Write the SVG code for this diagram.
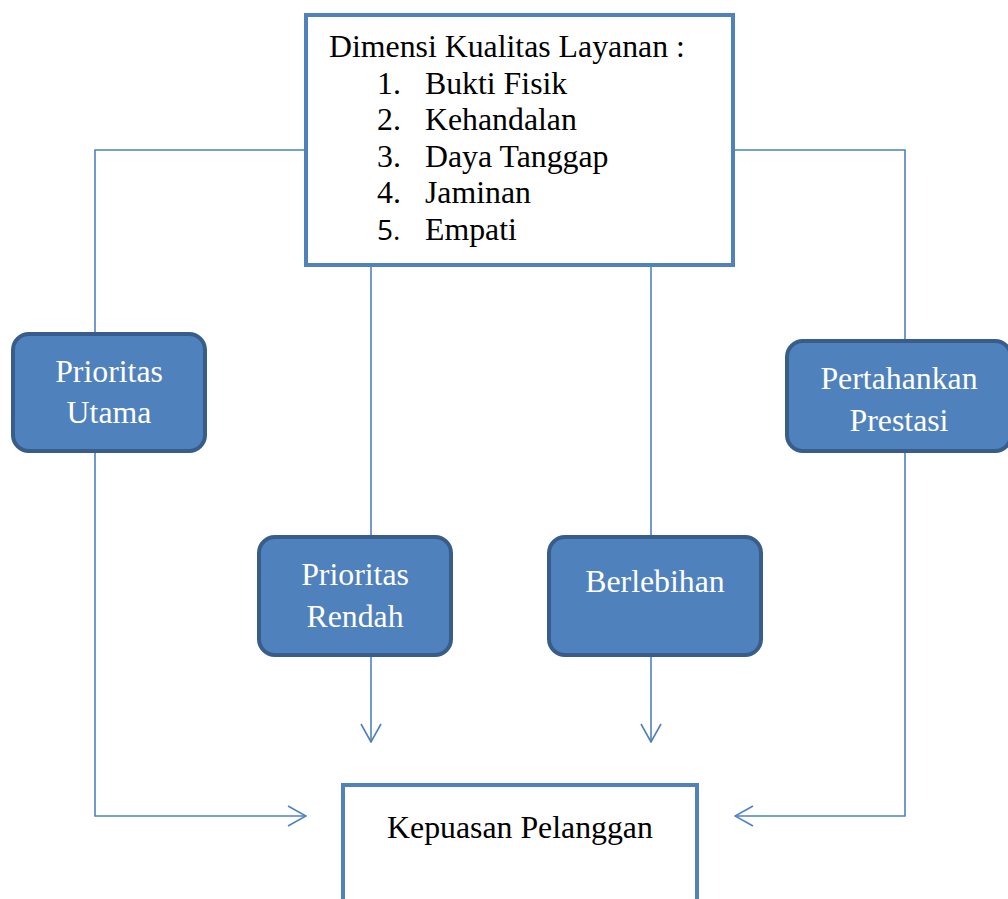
<svg xmlns="http://www.w3.org/2000/svg" width="1008" height="899" viewBox="0 0 1008 899">
<style>
.box{fill:#ffffff;stroke:#4F81BD;stroke-width:4}
.node{fill:#4F81BD;stroke:#385D8A;stroke-width:4}
.t{font-family:"Liberation Serif","Times New Roman",serif;font-size:31.8px;fill:#000}
.w{font-family:"Liberation Serif","Times New Roman",serif;font-size:31.8px;fill:#ffffff;text-anchor:middle}
.c{fill:none;stroke:#4F81BD;stroke-width:1.6}
</style>
<defs>
<marker id="ah" viewBox="0 0 20 22" refX="19" refY="11" markerWidth="20" markerHeight="22" markerUnits="userSpaceOnUse" orient="auto">
<path d="M1,1 L19,11 L1,21" fill="none" stroke="#4F81BD" stroke-width="1.6"/>
</marker>
</defs>
<rect width="1008" height="899" fill="#ffffff"/>
<g id="connectors">
<path class="c" d="M306,150 H95 V334"/>
<path class="c" d="M95,451 V816 H306" marker-end="url(#ah)"/>
<path class="c" d="M733,150 H905 V341"/>
<path class="c" d="M905,451 V816 H735" marker-end="url(#ah)"/>
<path class="c" d="M371,265 V537"/>
<path class="c" d="M371,655 V742" marker-end="url(#ah)"/>
<path class="c" d="M651,265 V537"/>
<path class="c" d="M651,655 V742" marker-end="url(#ah)"/>
</g>
<g id="dimensi">
<rect class="box" x="306" y="15" width="427" height="250"/>
<text class="t" x="329" y="57">Dimensi Kualitas Layanan :</text>
<text class="t" x="377" y="94">1.</text><text class="t" x="425" y="94">Bukti Fisik</text>
<text class="t" x="377" y="130">2.</text><text class="t" x="425" y="130">Kehandalan</text>
<text class="t" x="377" y="167">3.</text><text class="t" x="425" y="167">Daya Tanggap</text>
<text class="t" x="377" y="203">4.</text><text class="t" x="425" y="203">Jaminan</text>
<text x="377" y="240" style="font-family:'Open Sans','Liberation Sans',sans-serif;font-size:28px;fill:#000">5.</text><text class="t" x="425" y="240">Empati</text>
</g>
<g id="prioritas-utama">
<rect class="node" x="13" y="334" width="192" height="117" rx="16"/>
<text class="w" x="109" y="382">Prioritas</text>
<text class="w" x="109" y="423">Utama</text>
</g>
<g id="pertahankan-prestasi">
<rect class="node" x="787" y="341" width="224" height="110" rx="16"/>
<text class="w" x="899" y="389">Pertahankan</text>
<text class="w" x="899" y="431">Prestasi</text>
</g>
<g id="prioritas-rendah">
<rect class="node" x="259" y="537" width="192" height="118" rx="16"/>
<text class="w" x="355" y="585">Prioritas</text>
<text class="w" x="355" y="627">Rendah</text>
</g>
<g id="berlebihan">
<rect class="node" x="549" y="537" width="212" height="118" rx="16"/>
<text class="w" x="655" y="592">Berlebihan</text>
</g>
<g id="kepuasan">
<rect class="box" x="343" y="785" width="354" height="130"/>
<text class="t" x="520" y="838" text-anchor="middle">Kepuasan Pelanggan</text>
</g>
</svg>
